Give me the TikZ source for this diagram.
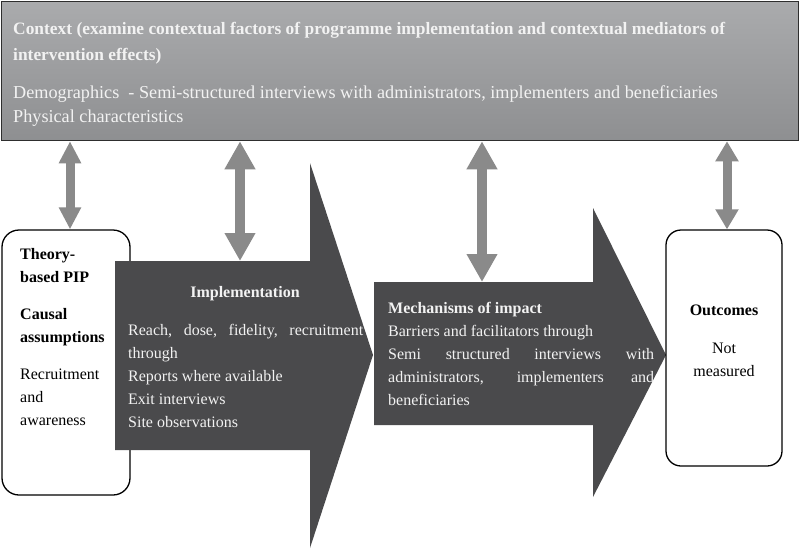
\documentclass[tikz,border=0pt]{standalone}
\usepackage{fontspec}
\setmainfont{Liberation Serif}
\usetikzlibrary{arrows.meta}
\definecolor{ctxtop}{HTML}{AAABAD}
\definecolor{ctxbot}{HTML}{8E8F91}
\definecolor{arrowdark}{HTML}{4A4A4C}
\definecolor{linkgray}{HTML}{8A8A8A}
\definecolor{lighttxt}{HTML}{F2F2F2}
\definecolor{edgedark}{HTML}{2E2E2E}
\begin{document}
\begin{tikzpicture}[x=1pt,y=-1pt,
  ctxbox/.style={draw=edgedark,line width=1.5pt,top color=ctxtop,bottom color=ctxbot,
    minimum width=797pt,minimum height=139pt,inner sep=0pt},
  roundbox/.style={draw=black,line width=1.3pt,fill=white,rounded corners=17pt,inner sep=0pt},
  bigarrow/.style={fill=arrowdark},
  toptxt/.style={font=\fontsize{18.2}{24}\selectfont,text=lighttxt,inner sep=0pt,anchor=north west,align=left},
  bodytxt/.style={font=\fontsize{16}{23}\selectfont,inner sep=0pt,anchor=north west,align=left},
  titletxt/.style={font=\bfseries\fontsize{16}{23}\selectfont,inner sep=0pt,anchor=base},
  link/.style={draw=linkgray,line width=#1},
]
\useasboundingbox (0,0) rectangle (800,549);
\fill[white] (0,0) rectangle (800,549);

% context bar
\node[ctxbox] (ctx) at (400,71) {};
\node[toptxt,font=\bfseries\fontsize{17.4}{26}\selectfont] (ctxtitle) at (13,22)
  {Context (examine contextual factors of programme implementation and contextual mediators of\\intervention effects)};
\node[toptxt] (ctxbody) at (13,85.5)
  {Demographics\ \ - Semi-structured interviews with administrators, implementers and beneficiaries\\Physical characteristics};

% theory box
\node[roundbox,minimum width=128pt,minimum height=265pt] (theory) at (66,362.5) {};

% implementation arrow
\fill[bigarrow] (115,261) -- (310,261) -- (310,163) -- (373,355) -- (310,548) -- (310,450) -- (115,450) -- cycle;
\coordinate (impltop) at (240,261);

% mechanisms arrow
\fill[bigarrow] (374,282) -- (593,282) -- (593,208) -- (666,355) -- (593,497) -- (593,425) -- (374,425) -- cycle;
\coordinate (mechtop) at (482,282);

% outcomes box
\node[roundbox,minimum width=116pt,minimum height=236pt,rounded corners=15pt] (outcomes) at (724,348) {};

% theory text
\node[bodytxt] (theorytxt) at (20,248)
  {\textbf{Theory-}\\\textbf{based PIP}\\[14pt]\textbf{Causal}\\\textbf{assumptions}\\[14pt]Recruitment\\and\\awareness};

% implementation text
\node[titletxt,text=lighttxt] (impltitle) at (245,297) {Implementation};
\node[bodytxt,text=lighttxt] (impltxt) at (128,324)
  {\makebox[235pt][s]{Reach, dose, fidelity, recruitment}\\through\\Reports where available\\Exit interviews\\Site observations};

% mechanisms text
\node[bodytxt,text=lighttxt] (mechtxt) at (388,302)
  {\textbf{Mechanisms of impact}\\Barriers and facilitators through\\\makebox[266pt][s]{Semi structured interviews with}\\\makebox[266pt][s]{administrators, implementers and}\\beneficiaries};

% outcomes text
\node[titletxt] (outtitle) at (724,315) {Outcomes};
\node[bodytxt,anchor=north,align=center] (outtxt) at (724,343) {Not\\measured};

% links
\coordinate (l1) at (70,0);
\coordinate (l4) at (727,0);
\draw[link=9pt,{Triangle[length=22pt,width=21pt]}-{Triangle[length=22pt,width=21pt]}] (l1 |- ctx.south) -- (l1 |- theory.north);
\draw[link=10pt,{Triangle[length=28pt,width=29pt]}-{Triangle[length=28pt,width=29pt]}] (impltop |- ctx.south) -- (impltop);
\draw[link=10pt,{Triangle[length=28pt,width=29pt]}-{Triangle[length=28pt,width=29pt]}] (mechtop |- ctx.south) -- (mechtop);
\draw[link=9pt,{Triangle[length=20pt,width=22pt]}-{Triangle[length=20pt,width=22pt]}] (l4 |- ctx.south) -- (l4 |- outcomes.north);
\end{tikzpicture}
\end{document}
